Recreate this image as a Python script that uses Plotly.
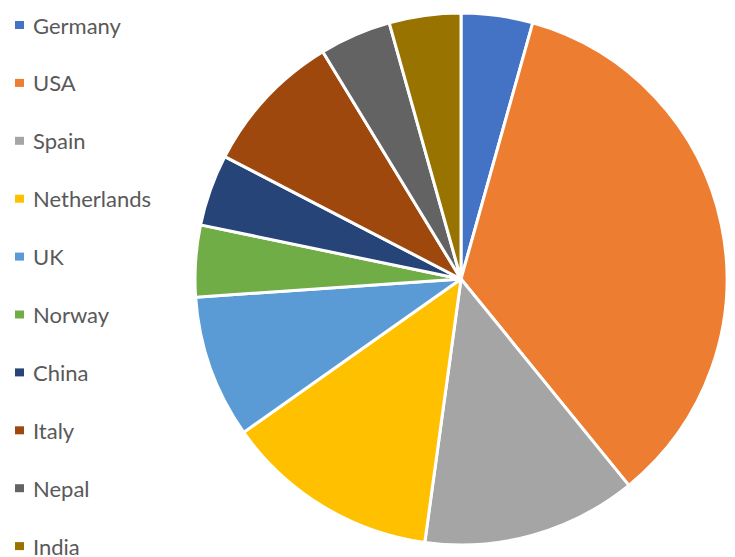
import plotly.graph_objects as go

# Slice data
countries = ["Germany", "USA", "Spain", "Netherlands", "UK",
             "Norway", "China", "Italy", "Nepal", "India"]
counts = [1, 8, 3, 3, 2, 1, 1, 2, 1, 1]
colors = ["#4472C4", "#ED7D31", "#A5A5A5", "#FFC000", "#5B9BD5",
          "#70AD47", "#264478", "#9E480E", "#636363", "#997300"]

W, H = 735, 557

fig = go.Figure()
fig.add_trace(go.Pie(
    labels=countries,
    values=counts,
    sort=False,
    direction="clockwise",
    rotation=0,
    textinfo="none",
    marker=dict(colors=colors, line=dict(color="white", width=3)),
    domain=dict(x=[195 / W, 727 / W], y=[1 - 545 / H, 1 - 13 / H]),
    showlegend=False,
))

# Legend drawn as a column of colored squares and labels
top_y, step = 25, 57.9
for i, (name, col) in enumerate(zip(countries, colors)):
    yc = top_y + i * step
    fig.add_shape(type="rect", xref="paper", yref="paper",
                  x0=15 / W, x1=24 / W,
                  y0=1 - (yc + 4) / H, y1=1 - (yc - 4) / H,
                  fillcolor=col, line=dict(width=0))
    fig.add_annotation(xref="paper", yref="paper", x=31 / W, y=1 - yc / H,
                       xanchor="left", yanchor="middle", showarrow=False,
                       text=name, font=dict(family="Lato", size=22, color="#595959"))

fig.update_layout(
    width=W, height=H,
    margin=dict(l=0, r=0, t=0, b=0),
    paper_bgcolor="white",
    plot_bgcolor="white",
)

fig.write_html("out.html")
